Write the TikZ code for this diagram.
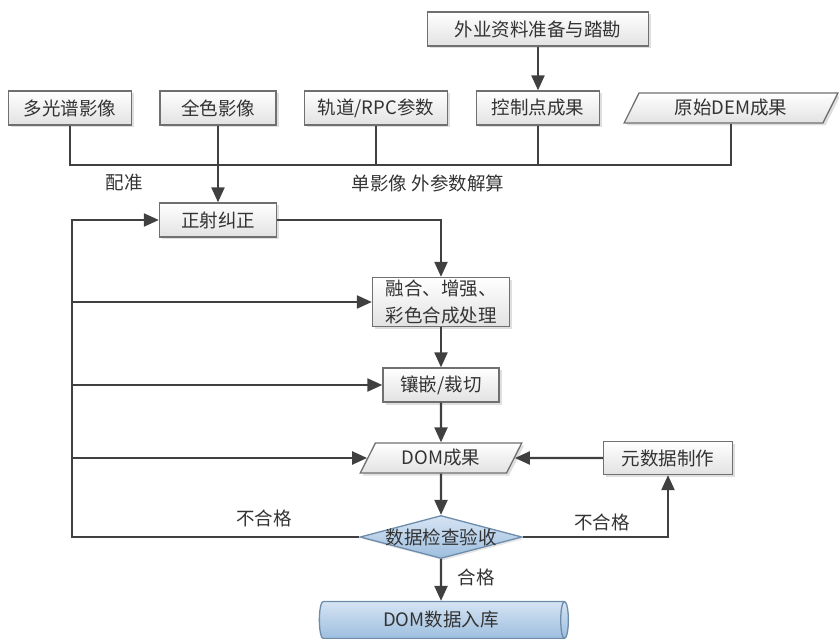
\documentclass[tikz,border=0pt]{standalone}
\usepackage{fontspec}
\setmainfont{Noto Sans CJK SC}
\usetikzlibrary{arrows.meta,shapes.geometric,shadows}
\definecolor{linegray}{HTML}{404040}
\definecolor{boxgray}{HTML}{707070}
\definecolor{boxbot}{HTML}{E2E2E2}
\definecolor{bluetop}{HTML}{D6E4F3}
\definecolor{bluebot}{HTML}{9DBEDF}
\definecolor{bluedraw}{HTML}{6D8CAB}
\begin{document}
\begin{tikzpicture}[x=1pt, y=-1pt,
    font=\fontsize{18.5}{27}\selectfont, text=black!80,
    procbox/.style={draw=boxgray, line width=1.3pt, rectangle, top color=white, bottom color=boxbot,
        drop shadow={shadow xshift=2.5pt, shadow yshift=-2.5pt, opacity=0.25},
        minimum height=34, inner sep=1pt},
    databox/.style={procbox, trapezium, trapezium left angle=64, trapezium right angle=116,
        trapezium stretches=true, minimum height=30},
    checkbox/.style={diamond, draw=bluedraw, line width=1.3pt, top color=bluetop, bottom color=bluebot,
        drop shadow={shadow xshift=2pt, shadow yshift=-2pt, opacity=0.2},
        minimum width=162, minimum height=43, inner sep=0pt},
    storebox/.style={cylinder, draw=bluedraw, line width=1.3pt, shape aspect=0.4,
        top color=bluetop, bottom color=bluebot, minimum width=37, minimum height=249, inner sep=1pt},
    flow/.style={line width=2.2pt, draw=linegray},
    arrow/.style={flow, -{Triangle[length=15pt,width=13pt]}}]
    \useasboundingbox (0,0) rectangle (839,639);

    % Input row
    \node[procbox, minimum width=221] (fieldprep) at (538,29) {外业资料准备与踏勘};
    \node[procbox, minimum width=123] (multispec) at (70,108) {多光谱影像};
    \node[procbox, minimum width=116] (pan) at (218,108) {全色影像};
    \node[procbox, minimum width=143] (orbit) at (376,108) {轨道/RPC参数};
    \node[procbox, minimum width=123] (ctrl) at (538,108) {控制点成果};
    \node[databox, minimum width=214] (dem) at (731,108) {原始DEM成果};

    % Processing chain
    \node[procbox, minimum width=117] (ortho) at (218,220) {正射纠正};
    \node[procbox, minimum width=137, minimum height=49, align=left] (fusion) at (441,302) {融合、增强、\\彩色合成处理};
    \node[procbox, minimum width=116] (mosaic) at (441,385) {镶嵌/裁切};
    \node[databox, minimum width=163] (dom) at (441,458) {DOM成果};
    \node[procbox, minimum width=129, minimum height=33] (meta) at (668,458) {元数据制作};
    \node[checkbox, label=center:数据检查验收] (check) at (441,537) {};
    \node[storebox] (store) at (441,620) {DOM数据入库};

    % Labels
    \node (regist) at (124,183) {配准};
    \node (extparam) at (428,183) {单影像\ 外参数解算};
    \node (failleft) at (264,518) {不合格};
    \node (failright) at (602,522) {不合格};
    \node (pass) at (476,577) {合格};

    % Helper points
    \coordinate (bus) at (0,165);
    \coordinate (loop) at (72,0);

    % Arrows
    \draw[arrow] (fieldprep.south) -- (ctrl.north);
    \draw[flow] (multispec.south) |- (dem.south |- bus) -- (dem.south);
    \draw[flow] (orbit.south) -- (orbit.south |- bus);
    \draw[flow] (ctrl.south) -- (ctrl.south |- bus);
    \draw[arrow] (pan.south) -- (ortho.north);
    \draw[arrow] (ortho.east) -| (fusion.north);
    \draw[arrow] (fusion.south) -- (mosaic.north);
    \draw[arrow] (mosaic.south) -- (dom.north);
    \draw[arrow] (dom.south) -- (check.north);
    \draw[arrow] (check.south) -- (store.north);
    \draw[arrow] (meta.west) -- (dom.east);
    \draw[arrow] (check.east) -| (meta.south);
    \draw[arrow] (check.west) -- (check.west -| loop) -- (ortho.west -| loop) -- (ortho.west);
    \draw[arrow] (fusion.west -| loop) -- (fusion.west);
    \draw[arrow] (mosaic.west -| loop) -- (mosaic.west);
    \draw[arrow] (dom.west -| loop) -- (dom.west);
\end{tikzpicture}
\end{document}
